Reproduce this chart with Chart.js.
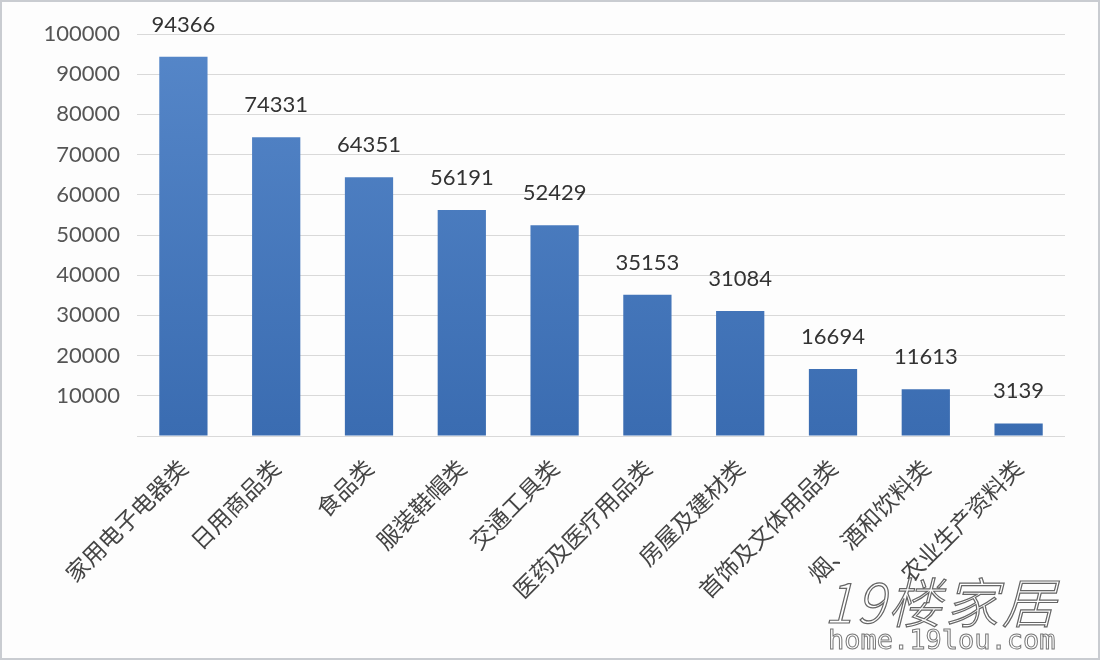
<!DOCTYPE html>
<html>
<head>
<meta charset="utf-8">
<script src="https://cdn.jsdelivr.net/npm/chart.js@4/dist/chart.umd.min.js"></script>
<style>
html,body{margin:0;padding:0;background:#fff;}
#wrap{position:relative;width:1100px;height:660px;box-sizing:border-box;border:2px solid #c9ccd1;background:#fdfdfd;}
canvas{display:block;}
.wm1{position:absolute;left:822px;top:558px;font:italic 300 54px "Noto Sans CJK SC",sans-serif;color:#fff;-webkit-text-stroke:1.2px #666;letter-spacing:3px;}
.wm2{position:absolute;left:826px;top:622px;font:300 27px "DejaVu Sans Mono",monospace;color:#fff;-webkit-text-stroke:1px #777;}
</style>
</head>
<body>
<div id="wrap"><canvas id="c" width="1096" height="656"></canvas>
<div class="wm1">19楼家居</div><div class="wm2">home.19lou.com</div></div>
<script>
const categories = ["家用电子电器类","日用商品类","食品类","服装鞋帽类","交通工具类","医药及医疗用品类","房屋及建材类","首饰及文体用品类","烟、酒和饮料类","农业生产资料类"];
const values = [94366, 74331, 64351, 56191, 52429, 35153, 31084, 16694, 11613, 3139];
const yMax = 100000;
const yStep = 10000;

const labelPlugin = {
  id: 'valueLabels',
  afterDatasetsDraw(chart) {
    const ctx = chart.ctx;
    const meta = chart.getDatasetMeta(0);
    ctx.save();
    ctx.font = '22px Lato, "Open Sans", sans-serif';
    ctx.fillStyle = '#333';
    ctx.textAlign = 'center';
    ctx.textBaseline = 'middle';
    meta.data.forEach((bar, i) => {
      const p = bar.getProps(['x','y'], true);
      ctx.fillText(String(values[i]), p.x, p.y - 32);
    });
    ctx.restore();
  }
};

new Chart(document.getElementById('c'), {
  type: 'bar',
  data: {
    labels: categories,
    datasets: [{
      data: values,
      backgroundColor(ctx) {
        const ca = ctx.chart.chartArea;
        if (!ca) return '#4a7bbf';
        const g = ctx.chart.ctx.createLinearGradient(0, ca.top, 0, ca.bottom);
        g.addColorStop(0, '#5687c9');
        g.addColorStop(1, '#3a6cb1');
        return g;
      },
      borderWidth: 0,
      categoryPercentage: 1,
      barPercentage: 0.52
    }]
  },
  options: {
    responsive: false,
    animation: false,
    devicePixelRatio: 1,
    layout: { padding: { top: 32, right: 33, left: 0, bottom: 0 } },
    plugins: { legend: { display: false }, tooltip: { enabled: false } },
    scales: {
      x: {
        grid: { display: false },
        border: { display: false },
        ticks: {
          color: '#444',
          font: { family: '"Noto Sans CJK SC", sans-serif', size: 23 },
          minRotation: 45, maxRotation: 45, padding: 10, autoSkip: false
        },
        afterFit(s) { s.height = 222; }
      },
      y: {
        min: 0, max: yMax,
        grid: { color: '#d9d9d9', lineWidth: 1, drawTicks: false },
        border: { display: false },
        ticks: {
          stepSize: yStep,
          color: '#555',
          padding: 17,
          font: { family: 'Lato, "Open Sans", sans-serif', size: 22 },
          callback: v => v === 0 ? '' : String(v)
        },
        afterFit(s) { s.width = 135; }
      }
    }
  },
  plugins: [labelPlugin]
});
</script>
</body>
</html>
